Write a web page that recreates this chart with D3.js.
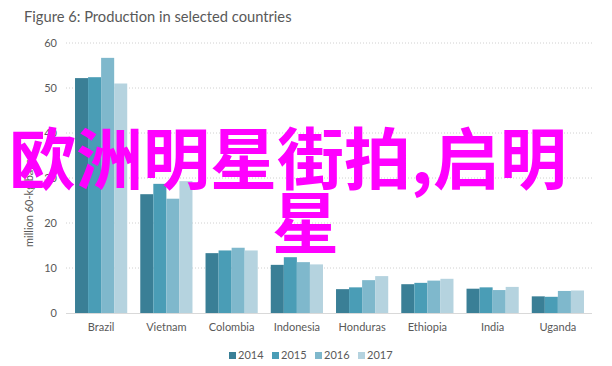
<!DOCTYPE html>
<html><head><meta charset="utf-8">
<script src="https://cdn.jsdelivr.net/npm/d3@7"></script>
<style>body{margin:0;background:#fff}svg{display:block}</style>
</head><body><div id="c"></div>
<script>
const categories = ["Brazil","Vietnam","Colombia","Indonesia","Honduras","Ethiopia","India","Uganda"];
const seriesNames = ["2014","2015","2016","2017"];
const v2014 = [52.2, 26.4, 13.3, 10.7, 5.3, 6.4, 5.4, 3.7];
const v2015 = [52.4, 28.7, 13.9, 12.4, 5.7, 6.7, 5.7, 3.6];
const v2016 = [56.7, 25.4, 14.5, 11.3, 7.3, 7.2, 5.1, 4.9];
const v2017 = [51.0, 29.3, 13.9, 10.8, 8.2, 7.6, 5.8, 5.0];
const yTicks = [0,10,20,30,40,50,60];
const title = "Figure 6: Production in selected countries";
const yLabel = "million 60-kg bags";
const overlay1 = "欧洲明星街拍,启明";
const overlay2 = "星";

const colors = ["#3a7f96","#4a9db6","#7fb8cc","#b5d3df"];
const series = [v2014, v2015, v2016, v2017];

const W = 612, H = 366;
const svg = d3.select("#c").append("svg").attr("width", W).attr("height", H);
const font = "Lato, 'Open Sans', sans-serif";

const x0 = d3.scaleBand().domain(categories).range([68.5, 590.5]).paddingInner(0.2).paddingOuter(0.1);
const x1 = d3.scaleBand().domain(seriesNames).range([0, x0.bandwidth()]);
const y = d3.scaleLinear().domain([0, 60]).range([313, 43]);

svg.append("text").attr("x", 24).attr("y", 22).attr("font-family", font)
  .attr("font-size", 14.7).attr("fill", "#595959").text(title);

// gridlines
svg.append("g").selectAll("line").data(yTicks.filter(t => t > 0)).join("line")
  .attr("x1", 66).attr("x2", 592).attr("y1", d => y(d)).attr("y2", d => y(d))
  .attr("stroke", "#d0d0d0").attr("stroke-width", 1).attr("stroke-dasharray", "1,2");

// y axis labels
const yAxis = d3.axisLeft(y).tickValues(yTicks).tickSize(0).tickPadding(0);
const ga = svg.append("g").attr("transform", "translate(57,0)").call(yAxis);
ga.select(".domain").remove();
ga.selectAll("text").attr("font-family", font).attr("font-size", 11).attr("fill", "#595959");

svg.append("text").attr("transform", "translate(33,247) rotate(-90)")
  .attr("font-family", font).attr("font-size", 11).attr("fill", "#595959").text(yLabel);

// bars
const groups = svg.append("g").selectAll("g").data(categories).join("g")
  .attr("transform", d => `translate(${x0(d)},0)`);
groups.selectAll("rect").data((c, i) => seriesNames.map((s, k) => ({s, v: series[k][i], k})))
  .join("rect")
  .attr("x", d => x1(d.s)).attr("width", x1.bandwidth())
  .attr("y", d => y(d.v)).attr("height", d => y(0) - y(d.v))
  .attr("fill", d => colors[d.k]);

// baseline
svg.append("line").attr("x1", 66).attr("x2", 592).attr("y1", y(0)+0.5).attr("y2", y(0)+0.5)
  .attr("stroke", "#d9d9d9");

// x labels
const xAxis = d3.axisBottom(x0).tickSize(0).tickPadding(0);
const gx = svg.append("g").attr("transform", "translate(0,323)").call(xAxis);
gx.select(".domain").remove();
gx.selectAll("text").attr("font-family", font).attr("font-size", 11).attr("fill", "#595959");

// legend
const lg = svg.append("g").selectAll("g").data(seriesNames).join("g")
  .attr("transform", (d, i) => `translate(${229 + i * 43},352)`);
lg.append("rect").attr("width", 7).attr("height", 7).attr("fill", (d, i) => colors[i]);
lg.append("text").attr("x", 9).attr("y", 7).attr("font-family", font).attr("font-size", 11)
  .attr("fill", "#595959").text(d => d);

// overlay text
const cjk = "'Noto Sans CJK SC', sans-serif";
svg.append("text").attr("x", 9).attr("y", 184).attr("font-family", cjk).attr("font-size", 67)
  .attr("font-weight", "bold").attr("fill", "#ff00ff").text(overlay1);
svg.append("text").attr("x", 272).attr("y", 248).attr("font-family", cjk).attr("font-size", 67)
  .attr("font-weight", "bold").attr("fill", "#ff00ff").text(overlay2);
</script></body></html>
